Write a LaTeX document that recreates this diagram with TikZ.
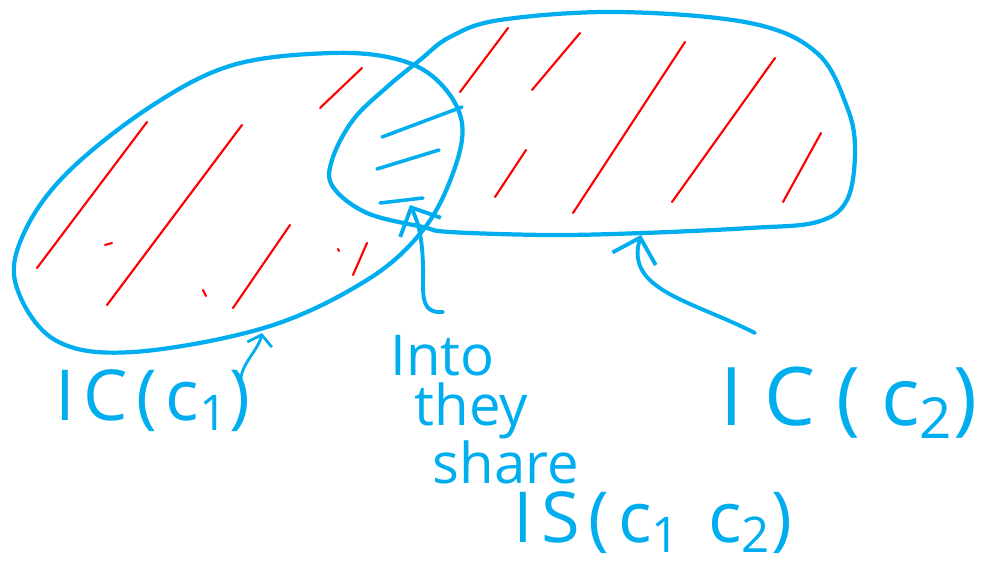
\documentclass[tikz,border=0pt]{standalone}
\usepackage{fontspec}
\setmainfont{Open Sans}
\usetikzlibrary{arrows.meta}
\definecolor{skyblue}{HTML}{00AEEF}
\definecolor{hatchred}{HTML}{FF0000}

\begin{document}
\begin{tikzpicture}[x=0.01cm, y=-0.01cm,
    outline/.style={draw=skyblue, line width=1.2pt, line cap=round, line join=round},
    hatch/.style={draw=hatchred, line width=0.6pt, line cap=round},
    bluehatch/.style={draw=skyblue, line width=1pt, line cap=round},
    arr/.style={draw=skyblue, line width=1.1pt, line cap=round, -{Straight Barb[length=2.2mm, width=4.5mm]}},
    big/.style={text=skyblue, inner sep=0pt, anchor=base west, font=\fontsize{20}{24}\selectfont\addfontfeatures{LetterSpace=12}},
    word/.style={text=skyblue, inner sep=0pt, anchor=base west, font=\fontsize{16}{19}\selectfont}
]
\useasboundingbox (0,0) rectangle (1007,567);

% Set c1
\draw[outline] plot[smooth cycle, tension=0.6] coordinates {
    (16,285) (55,340) (133,352) (267,327) (367,280) (423,230) (453,173)
    (462,123) (440,83) (400,60) (333,53) (233,65) (150,107) (67,173) (24,233)};

% Set c2
\draw[outline] plot[smooth cycle, tension=0.6] coordinates {
    (500,20) (617,12) (750,23) (817,53) (847,107) (855,150) (847,200)
    (817,222) (750,228) (643,233) (550,235) (450,232) (423,227) (367,213)
    (333,187) (332,160) (353,120) (387,87) (420,60) (450,37)};

% Red hatching
\foreach \xa/\ya/\xb/\yb in {37/268/147/122, 107/305/242/125, 233/308/290/225,
    320/108/362/68, 353/275/367/243, 460/92/508/28, 532/90/580/33,
    495/197/526/150, 573/213/685/42, 672/202/775/58, 783/202/821/133}
  \draw[hatch] (\xa,\ya) -- (\xb,\yb);
\draw[hatch] (105,245) -- (112,243);
\draw[hatch] (203,290) -- (206,296);
\draw[hatch] (338,249) -- (339,251);

% Shared part
\foreach \xa/\ya/\xb/\yb in {382/137/462/107, 377/169/439/150, 380/203/423/198}
  \draw[bluehatch] (\xa,\ya) -- (\xb,\yb);

% Labels
\node[big] (ic1) at (55,420) {IC(c\textsubscript{1})};
\node[big, font=\fontsize{23}{27}\selectfont\addfontfeatures{LetterSpace=26}] (ic2) at (720,425) {IC(c\textsubscript{2})};
\node[word] (into) at (390,375) {Into};
\node[word] (they) at (414,425) {they};
\node[word] (share) at (432,483) {share};
\node[big] (is) at (513,542) {IS(c\textsubscript{1} c\textsubscript{2})};

% Arrows
\coordinate (lens) at (410,205);
\coordinate (intotail) at (443,312);
\coordinate (c2tip) at (641,235);
\coordinate (c2tail) at (755,333);
\coordinate (c1tip) at (262,333);
\coordinate (c1tail) at (242,386);
\draw[arr] (intotail) .. controls (418,314) and (424,290) .. (423,265)
    .. controls (422,235) and (418,222) .. (lens);
\draw[arr] (c2tail) .. controls (690,300) and (625,290) .. (c2tip);
\draw[arr, line width=0.8pt, -{Straight Barb[length=1mm, width=2.5mm]}] (c1tail)
    .. controls (236,368) and (258,352) .. (c1tip);

\end{tikzpicture}
\end{document}
